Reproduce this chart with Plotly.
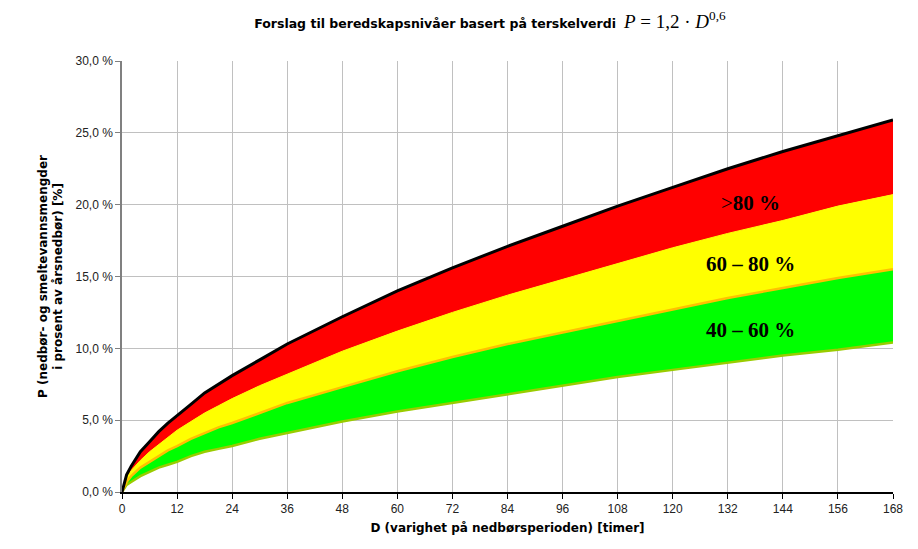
import plotly.graph_objects as go

# Duration D (hours)
D = [0, 1, 2, 4, 6, 8, 10, 12, 15, 18, 21, 24, 30, 36, 48, 60, 72, 84, 96, 108, 120, 132, 144, 156, 168]
# Threshold curve P (100 %) and fractions (percent of annual precipitation)
p100 = [0, 1.2, 1.8, 2.8, 3.5, 4.2, 4.8, 5.3, 6.1, 6.9, 7.5, 8.1, 9.2, 10.3, 12.2, 14.0, 15.6, 17.1, 18.5, 19.9, 21.2, 22.5, 23.7, 24.8, 25.9]
p80 = [0, 1.0, 1.5, 2.2, 2.8, 3.3, 3.8, 4.3, 4.9, 5.5, 6.0, 6.5, 7.4, 8.2, 9.8, 11.2, 12.5, 13.7, 14.8, 15.9, 17.0, 18.0, 18.9, 19.9, 20.7]
p60 = [0, 0.7, 1.1, 1.7, 2.1, 2.5, 2.9, 3.2, 3.7, 4.1, 4.5, 4.8, 5.5, 6.2, 7.3, 8.4, 9.4, 10.3, 11.1, 11.9, 12.7, 13.5, 14.2, 14.9, 15.5]
p40 = [0, 0.5, 0.7, 1.1, 1.4, 1.7, 1.9, 2.1, 2.5, 2.8, 3.0, 3.2, 3.7, 4.1, 4.9, 5.6, 6.2, 6.8, 7.4, 8.0, 8.5, 9.0, 9.5, 9.9, 10.4]

x_ticks = [0, 12, 24, 36, 48, 60, 72, 84, 96, 108, 120, 132, 144, 156, 168]
y_ticks = [0, 5, 10, 15, 20, 25, 30]
y_ticktext = ["0,0 %", "5,0 %", "10,0 %", "15,0 %", "20,0 %", "25,0 %", "30,0 %"]

band_labels = [">80 %", "60 – 80 %", "40 – 60 %"]
band_label_x = [137, 137, 137]
band_label_y = [20.1, 15.9, 11.3]

fig = go.Figure()
fig.add_trace(go.Scatter(x=D, y=p40, mode="lines", line=dict(color="#99cc00", width=2.5), showlegend=False))
fig.add_trace(go.Scatter(x=D, y=p60, mode="lines", fill="tonexty", fillcolor="#00ff00",
                         line=dict(color="#ffc000", width=2.5), showlegend=False))
fig.add_trace(go.Scatter(x=D, y=p80, mode="lines", fill="tonexty", fillcolor="#ffff00",
                         line=dict(color="#ffff00", width=1), showlegend=False))
fig.add_trace(go.Scatter(x=D, y=p100, mode="lines", fill="tonexty", fillcolor="#ff0000",
                         line=dict(color="#000000", width=3), showlegend=False))

for t, x, y in zip(band_labels, band_label_x, band_label_y):
    if t.startswith(">"):
        txt = "&gt;<b>" + t[1:] + "</b>"
    else:
        txt = "<b>" + t + "</b>"
    fig.add_annotation(x=x, y=y, text=txt, showarrow=False,
                       font=dict(family="Liberation Serif, Times New Roman, serif", size=21, color="black"))

fig.update_layout(
    width=918, height=549,
    margin=dict(l=114, r=33, t=53, b=65),
    paper_bgcolor="white", plot_bgcolor="white",
    title=dict(
        text="<b>Forslag til beredskapsnivåer basert på terskelverdi</b>  "
             "<span style='font-family:Liberation Serif, Times New Roman, serif;font-size:19px'>"
             "<i>P</i> = 1,2 · <i>D</i><sup>0,6</sup></span>",
        x=0.525, xanchor="center", y=0.972, yanchor="middle",
        font=dict(family="DejaVu Sans, sans-serif", size=12.5, color="black")),
    font=dict(family="Arial, Liberation Sans, sans-serif", size=12, color="#222222"),
)
fig.update_xaxes(range=[0, 168], tickvals=x_ticks, ticks="outside", ticklen=5, tickcolor="black",
                 showgrid=True, gridcolor="#c0c0c0", gridwidth=1,
                 showline=True, linecolor="black", linewidth=1.5, zeroline=False,
                 layer="above traces",
                 title=dict(text="<b>D (varighet på nedbørsperioden) [timer]</b>",
                            font=dict(family="DejaVu Sans, sans-serif", size=12, color="black"), standoff=8))
fig.update_yaxes(range=[0, 30], tickvals=y_ticks, ticktext=y_ticktext, ticks="outside", ticklen=5,
                 tickcolor="#808080", showgrid=True, gridcolor="#c0c0c0", gridwidth=1,
                 showline=True, linecolor="#808080", linewidth=1.5, zeroline=False,
                 layer="above traces",
                 title=dict(text="<b>P (nedbør- og smeltevannsmengder<br>i prosent av årsnedbør) [%]</b>",
                            font=dict(family="DejaVu Sans, sans-serif", size=12, color="black"), standoff=10))

fig.write_html("out.html")
